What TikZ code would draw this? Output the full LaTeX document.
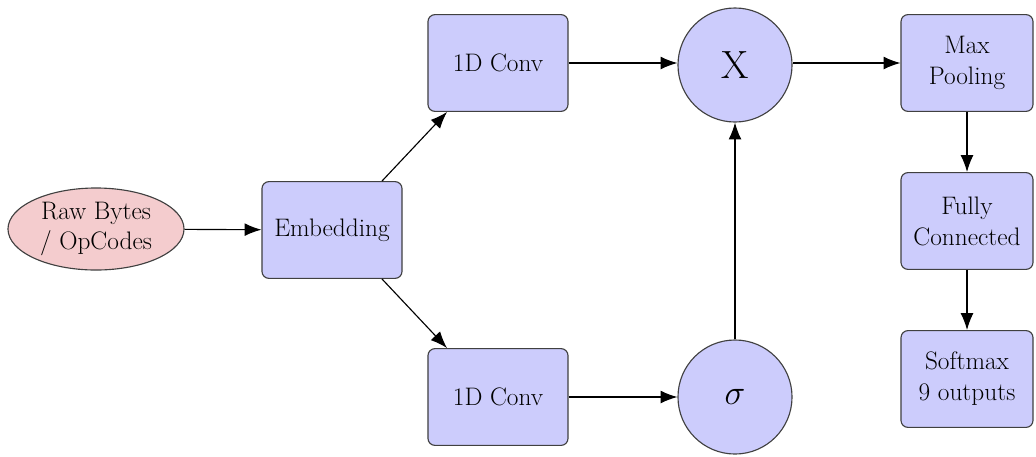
\documentclass[tikz,border=0pt]{standalone}
\usetikzlibrary{shapes.geometric,arrows.meta}
\definecolor{boxfill}{RGB}{204,204,252}
\definecolor{srcfill}{RGB}{244,204,206}
\begin{document}
\begin{tikzpicture}[x=0.025cm,y=-0.025cm,
  box/.style={draw=black!75,line width=0.8pt,fill=boxfill,rounded corners=5pt,minimum width=3.5cm,minimum height=2.42cm,align=center,font=\fontsize{18}{22}\selectfont,inner sep=2pt},
  op/.style={draw=black!75,line width=0.8pt,fill=boxfill,circle,minimum size=2.85cm,inner sep=0pt},
  src/.style={draw=black!75,line width=0.8pt,fill=srcfill,ellipse,minimum width=4.4cm,minimum height=2.05cm,align=center,font=\fontsize{18}{22}\selectfont,inner sep=0pt},
  arr/.style={line width=0.8pt,-{Latex[length=4.2mm,width=3.2mm]}}]
\useasboundingbox (0,0) rectangle (1036,456);
\node[src] (raw) at (96,229) {Raw Bytes\\/ OpCodes};
\node[box] (emb) at (332,230) {Embedding};
\node[box] (c1) at (498,63) {1D Conv};
\node[box] (c2) at (498,397) {1D Conv};
\node[op,font=\fontsize{28}{30}\selectfont] (mul) at (735,65) {X};
\node[op,font=\fontsize{26}{30}\selectfont] (sig) at (735,397) {$\sigma$};
\node[box,minimum width=3.3cm] (mp) at (967,63) {Max\\Pooling};
\node[box,minimum width=3.3cm] (fc) at (967,221) {Fully\\Connected};
\node[box,minimum width=3.3cm] (sm) at (967,379) {Softmax\\9 outputs};
\draw[arr] (raw) -- (emb);
\draw[arr] ([xshift=1.25cm]emb.north) -- ([xshift=-1.275cm]c1.south);
\draw[arr] ([xshift=1.25cm]emb.south) -- ([xshift=-1.275cm]c2.north);
\draw[arr] (c1) -- (c1 -| mul.west);
\draw[arr] (c2) -- (sig);
\draw[arr] (sig) -- (mul);
\draw[arr] (mul.east |- mp) -- (mp);
\draw[arr] (mp) -- (fc);
\draw[arr] (fc) -- (sm);
\end{tikzpicture}
\end{document}
